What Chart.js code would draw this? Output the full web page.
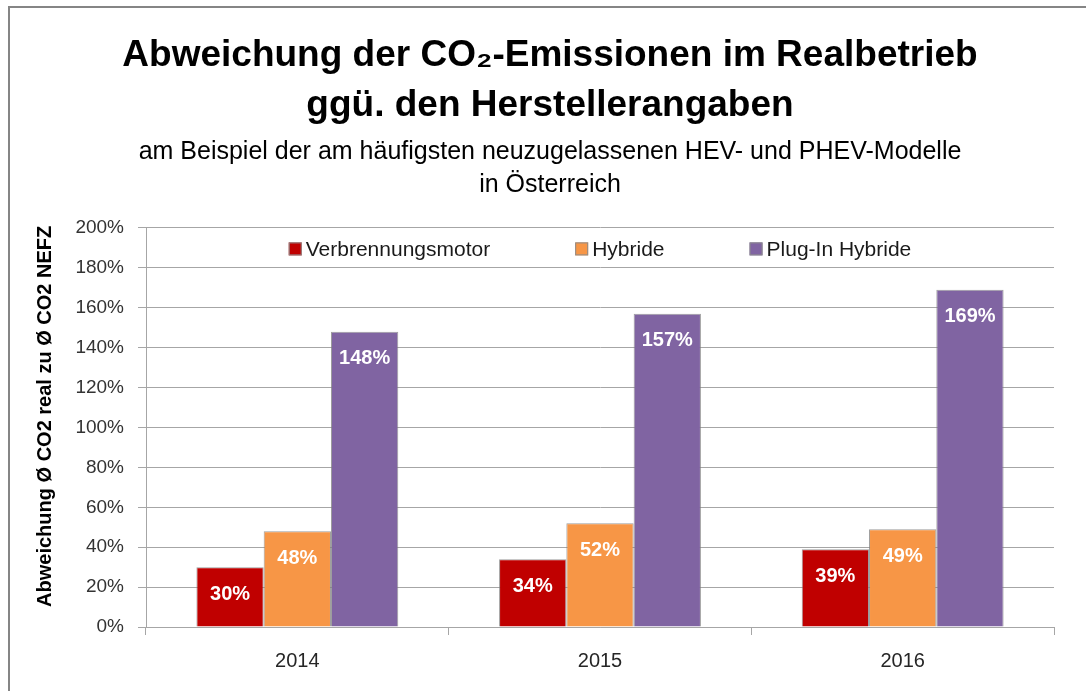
<!DOCTYPE html>
<html>
<head>
<meta charset="utf-8">
<script src="https://cdn.jsdelivr.net/npm/chart.js@4"></script>
<style>
  body { margin: 0; background: #fff; }
  #wrap { position: relative; width: 1086px; height: 691px; }
  #frame { position: absolute; left: 8px; top: 6px; right: 0; bottom: 0;
           border-left: 2px solid #858585; border-top: 2px solid #858585; pointer-events: none; }
</style>
</head>
<body>
<div id="wrap">
  <canvas id="barChart" width="1086" height="691"></canvas>
  <div id="frame"></div>
</div>
<script>
var years = ['2014', '2015', '2016'];
var verbrenner = [30, 34, 39];
var hybride = [48, 52, 49];
var plugIn = [148, 157, 169];
var seriesNames = ['Verbrennungsmotor', 'Hybride', 'Plug-In Hybride'];
var seriesColors = ['#C00000', '#F79646', '#8064A2'];

var FONT = "'Liberation Sans', Arial, sans-serif";
var GRID = '#A6A6A6';

// legend sits inside the plot area, centered, like in the Excel original
var innerLegend = {
    id: 'innerLegend',
    afterDraw: function (chart) {
        var ctx = chart.ctx;
        var area = chart.chartArea;
        var box = 13, gap = 4, spacing = 85;
        ctx.save();
        ctx.font = '21px ' + FONT;
        var widths = chart.data.datasets.map(function (ds) {
            return box + gap + ctx.measureText(ds.label).width;
        });
        var total = widths.reduce(function (a, b) { return a + b; }, 0) + spacing * (widths.length - 1);
        var x = (area.left + area.right) / 2 - total / 2;
        var y = area.top + 21;
        chart.data.datasets.forEach(function (ds, i) {
            ctx.fillStyle = ds.backgroundColor;
            ctx.fillRect(x, y - box / 2, box, box);
            ctx.strokeStyle = '#8c8c8c';
            ctx.lineWidth = 1;
            ctx.strokeRect(x + 0.5, y - box / 2 + 0.5, box - 1, box - 1);
            ctx.fillStyle = '#1a1a1a';
            ctx.textAlign = 'left';
            ctx.textBaseline = 'middle';
            ctx.fillText(ds.label, x + box + gap, y + 1);
            x += widths[i] + spacing;
        });
        ctx.restore();
    }
};

var valueLabels = {
    id: 'valueLabels',
    afterDatasetsDraw: function (chart) {
        var ctx = chart.ctx;
        ctx.save();
        ctx.font = 'bold 20px ' + FONT;
        ctx.fillStyle = '#ffffff';
        ctx.textAlign = 'center';
        ctx.textBaseline = 'middle';
        chart.data.datasets.forEach(function (ds, i) {
            chart.getDatasetMeta(i).data.forEach(function (bar, j) {
                ctx.fillText(ds.data[j] + '%', bar.x, bar.y + 27);
            });
        });
        ctx.restore();
    }
};

var ctx = document.getElementById('barChart').getContext('2d');
var myChart = new Chart(ctx, {
    type: 'bar',
    data: {
        labels: years,
        datasets: [
            { label: seriesNames[0], data: verbrenner, backgroundColor: seriesColors[0] },
            { label: seriesNames[1], data: hybride, backgroundColor: seriesColors[1] },
            { label: seriesNames[2], data: plugIn, backgroundColor: seriesColors[2] }
        ]
    },
    options: {
        responsive: false,
        animation: false,
        // left padding moves the title centre to match the original
        layout: { padding: { left: 46, right: 32, top: 0, bottom: 0 } },
        datasets: {
            bar: {
                categoryPercentage: 0.667,
                barPercentage: 1,
                borderColor: 'rgba(125,125,125,0.75)',
                borderWidth: 1
            }
        },
        scales: {
            x: {
                afterFit: function (scale) { scale.height = 64; },
                grid: { offset: true, drawOnChartArea: false, drawTicks: true, tickLength: 8, color: GRID },
                border: { color: GRID, width: 1 },
                ticks: { color: '#262626', padding: 14, font: { family: FONT, size: 20 } }
            },
            y: {
                min: 0,
                max: 200,
                afterFit: function (scale) { scale.width = 100; },
                grid: { color: GRID, lineWidth: 1, tickLength: 8 },
                border: { color: GRID, width: 1 },
                ticks: {
                    stepSize: 20,
                    padding: 14,
                    color: '#333333',
                    font: { family: FONT, size: 19 },
                    callback: function (v) { return v + '%'; }
                },
                title: {
                    display: true,
                    text: '\u00A0\u00A0\u00A0\u00A0Abweichung Ø CO2 real zu Ø CO2 NEFZ',
                    color: '#000000',
                    padding: { top: -13, bottom: 0 },
                    font: { family: FONT, size: 20, weight: 'bold' }
                }
            }
        },
        plugins: {
            legend: { display: false },
            tooltip: { enabled: false },
            title: {
                display: true,
                text: ['Abweichung der CO\u2082-Emissionen im Realbetrieb', 'ggü. den Herstellerangaben'],
                color: '#000000',
                padding: { top: 31, bottom: 1 },
                font: { family: FONT, size: 37, weight: 'bold', lineHeight: 1.35 }
            },
            subtitle: {
                display: true,
                text: ['am Beispiel der am häufigsten neuzugelassenen HEV- und PHEV-Modelle', 'in Österreich'],
                color: '#000000',
                padding: { top: 4, bottom: 26 },
                font: { family: FONT, size: 25, lineHeight: 1.32 }
            }
        }
    },
    plugins: [innerLegend, valueLabels]
});
</script>
</body>
</html>
